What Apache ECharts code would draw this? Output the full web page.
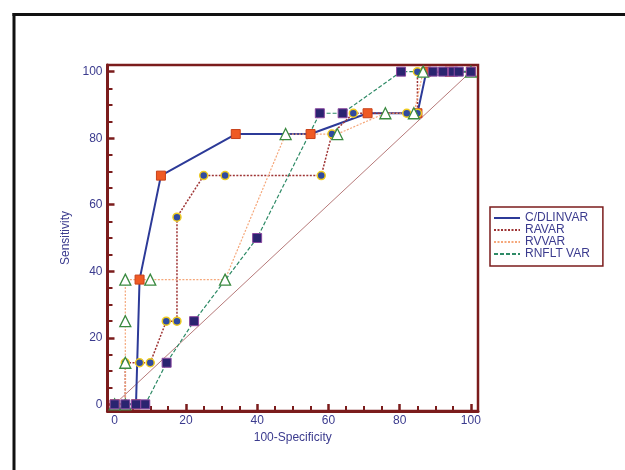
<!DOCTYPE html>
<html><head><meta charset="utf-8">
<script src="https://cdn.jsdelivr.net/npm/echarts@6/dist/echarts.min.js"></script>
<style>html,body{margin:0;padding:0;background:#fff}#c{width:625px;height:470px}</style>
</head><body><div id="c"></div>
<script>
// Tick labels
const xTickLabels = [0, 20, 40, 60, 80, 100];
const yTickLabels = [0, 20, 40, 60, 80, 100];
const minorTicks = [5, 10, 15, 25, 30, 35, 45, 50, 55, 65, 70, 75, 85, 90, 95];
const seriesNames = ['C/DLINVAR', 'RAVAR', 'RVVAR', 'RNFLT VAR'];

// Series values (100-Specificity, Sensitivity)
const cdlX = [0, 6, 7, 13, 34, 55, 71, 85, 87.5, 94, 100];
const cdlY = [0, 0, 37.5, 68.75, 81.25, 81.25, 87.5, 87.5, 100, 100, 100];

const raX = [0, 3, 3, 7, 10, 14.5, 17.5, 17.5, 25, 31, 58, 61, 67, 82, 85, 85, 100];
const raY = [0, 0, 12.5, 12.5, 12.5, 25, 25, 56.25, 68.75, 68.75, 68.75, 81.25, 87.5, 87.5, 87.5, 100, 100];

const rvX = [0, 3, 3, 3, 3, 10, 31, 48, 62.5, 76, 84, 86.6, 100];
const rvY = [0, 0, 12.5, 25, 37.5, 37.5, 37.5, 81.25, 81.25, 87.5, 87.5, 100, 100];

const rnX = [0, 3, 6, 8.6, 14.6, 22.3, 40, 57.6, 64, 80.4, 89.3, 92.2, 95, 96.6, 100];
const rnY = [0, 0, 0, 0, 12.5, 25, 50, 87.5, 87.5, 100, 100, 100, 100, 100, 100];

const diagX = [0, 100];
const diagY = [0, 100];

const zip = (xs, ys) => xs.map((x, i) => [x, ys[i]]);

const frameColor = '#7b1c1c';
const textColor = '#3b3b8e';
const gridPos = { left: 107.5, right: 147, top: 65, bottom: 59 };

const chart = echarts.init(document.getElementById('c'), null, { renderer: 'canvas' });
chart.setOption({
  animation: false,
  backgroundColor: '#ffffff',
  graphic: [
    { type: 'line', shape: { x1: 14, y1: 13, x2: 14, y2: 470 }, style: { stroke: '#111', lineWidth: 3 } },
    { type: 'line', shape: { x1: 12.5, y1: 14.5, x2: 625, y2: 14.5 }, style: { stroke: '#111', lineWidth: 3 } }
  ],
  grid: [
    Object.assign({ show: true, borderColor: frameColor, borderWidth: 2.5, backgroundColor: 'transparent' }, gridPos),
    Object.assign({ show: false }, gridPos)
  ],
  legend: {
    data: seriesNames,
    orient: 'vertical',
    left: 490, top: 207,
    padding: [5, 13, 6, 3],
    itemWidth: 26, itemHeight: 11, itemGap: 0,
    borderColor: frameColor, borderWidth: 1.5,
    backgroundColor: '#fff',
    itemStyle: { opacity: 0 },
    textStyle: { color: textColor, fontSize: 12, lineHeight: 11, fontFamily: 'Liberation Sans, Arial, sans-serif', padding: [0, 0, 0, 0] }
  },
  xAxis: [
    {
      type: 'value', gridIndex: 0, min: -2, max: 102, position: 'bottom',
      name: '100-Specificity', nameLocation: 'middle', nameGap: 20,
      nameTextStyle: { color: textColor, fontSize: 12, fontFamily: 'Liberation Sans, Arial, sans-serif' },
      axisLine: { show: true, onZero: false, lineStyle: { color: frameColor, width: 3 } },
      axisTick: { show: true, inside: true, length: 7, customValues: xTickLabels, lineStyle: { color: frameColor, width: 2.5 } },
      axisLabel: { customValues: xTickLabels, color: textColor, fontSize: 12, margin: 4, fontFamily: 'Liberation Sans, Arial, sans-serif' },
      splitLine: { show: false }
    },
    {
      type: 'value', gridIndex: 1, min: -2, max: 102, position: 'bottom',
      axisLine: { show: false, onZero: false },
      axisTick: { show: true, inside: true, length: 5, customValues: minorTicks, lineStyle: { color: frameColor, width: 2 } },
      axisLabel: { show: false },
      splitLine: { show: false }
    }
  ],
  yAxis: [
    {
      type: 'value', gridIndex: 0, min: -2, max: 102, position: 'left',
      name: 'Sensitivity', nameLocation: 'middle', nameGap: 35,
      nameTextStyle: { color: textColor, fontSize: 12, fontFamily: 'Liberation Sans, Arial, sans-serif' },
      axisLine: { show: true, onZero: false, lineStyle: { color: frameColor, width: 3 } },
      axisTick: { show: true, inside: true, length: 7, customValues: yTickLabels, lineStyle: { color: frameColor, width: 2.5 } },
      axisLabel: { customValues: yTickLabels, color: textColor, fontSize: 12, margin: 5, fontFamily: 'Liberation Sans, Arial, sans-serif' },
      splitLine: { show: false }
    },
    {
      type: 'value', gridIndex: 1, min: -2, max: 102, position: 'left',
      axisLine: { show: false, onZero: false },
      axisTick: { show: true, inside: true, length: 5, customValues: minorTicks, lineStyle: { color: frameColor, width: 2 } },
      axisLabel: { show: false },
      splitLine: { show: false }
    }
  ],
  series: [
    {
      name: 'diagonal', type: 'line', xAxisIndex: 0, yAxisIndex: 0,
      data: zip(diagX, diagY), symbol: 'none', silent: true,
      lineStyle: { color: '#b77a7a', width: 1 }
    },
    {
      name: seriesNames[0], type: 'line', xAxisIndex: 0, yAxisIndex: 0,
      data: zip(cdlX, cdlY), symbol: 'rect', symbolSize: 9, showAllSymbol: true,
      lineStyle: { color: '#2c3a98', width: 2 },
      itemStyle: { color: '#ef5a24', borderColor: '#c8421a', borderWidth: 1 },
      color: '#2c3a98'
    },
    {
      name: seriesNames[1], type: 'line', xAxisIndex: 0, yAxisIndex: 0,
      data: zip(raX, raY), symbol: 'circle', symbolSize: 8, showAllSymbol: true,
      lineStyle: { color: '#9e3434', width: 1.5, type: [2, 1.5] },
      itemStyle: { color: '#2f4aa0', borderColor: '#f0cc20', borderWidth: 1.5 },
      color: '#9e3434'
    },
    {
      name: seriesNames[2], type: 'line', xAxisIndex: 0, yAxisIndex: 0,
      data: zip(rvX, rvY), symbol: 'triangle', symbolSize: 11, showAllSymbol: true,
      lineStyle: { color: '#f5a77a', width: 1.2, type: [2, 1.5] },
      itemStyle: { color: '#ffffff', borderColor: '#3a8a40', borderWidth: 1.3 },
      color: '#f5a77a'
    },
    {
      name: seriesNames[3], type: 'line', xAxisIndex: 0, yAxisIndex: 0,
      data: zip(rnX, rnY), symbol: 'rect', symbolSize: 9, showAllSymbol: true,
      lineStyle: { color: '#2e8a66', width: 1.2, type: [4, 2] },
      itemStyle: { color: '#2a2470', borderColor: '#8a48a0', borderWidth: 1 },
      color: '#2e8a66'
    }
  ]
});
</script>
</body></html>
